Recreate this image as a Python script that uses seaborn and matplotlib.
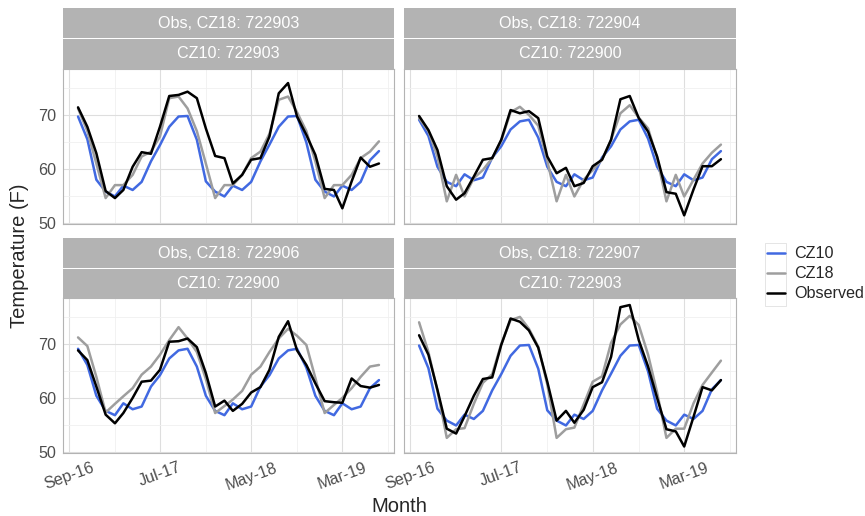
import numpy as np
import pandas as pd
import seaborn as sns
import matplotlib
matplotlib.use("Agg")
import matplotlib.pyplot as plt
import matplotlib.dates as mdates
from matplotlib.lines import Line2D
from matplotlib.patches import Rectangle

# ---------------- data ----------------
MONTHS = pd.date_range("2016-10-01", "2019-07-01", freq="MS")  # Oct-16 .. Jul-19 (34 months)

SERIES = ["CZ10", "CZ18", "Observed"]
COLORS = {"CZ10": "#4169E1", "CZ18": "#9E9E9E", "Observed": "#000000"}

TICK_DATES = ["2016-09-01", "2017-07-01", "2018-05-01", "2019-03-01"]
TICK_LABELS = ["Sep-16", "Jul-17", "May-18", "Mar-19"]
MINOR_DATES = ["2017-02-01", "2017-12-01", "2018-10-01", "2019-08-01"]

STRIP_TOP = ["Obs, CZ18: 722903", "Obs, CZ18: 722904", "Obs, CZ18: 722906", "Obs, CZ18: 722907"]
STRIP_BOTTOM = ["CZ10: 722903", "CZ10: 722900", "CZ10: 722900", "CZ10: 722903"]

CZ10_722903 = [69.7, 65.5, 58.0, 55.8, 54.9, 56.9, 56.1, 57.6, 61.4, 64.4, 67.8, 69.7,
               69.8, 65.4, 57.7, 55.8, 54.9, 56.9, 56.1, 57.6, 61.4, 64.5, 67.8, 69.7,
               69.8, 64.9, 58.0, 55.8, 54.9, 56.9, 56.1, 57.6, 61.6, 63.3]
CZ10_722900 = [69.1, 66.1, 60.4, 57.6, 56.8, 59.0, 57.9, 58.4, 62.1, 64.2, 67.3, 68.8,
               69.1, 65.8, 60.4, 57.6, 56.8, 59.0, 57.9, 58.4, 62.1, 64.2, 67.3, 68.8,
               69.1, 65.6, 60.4, 57.6, 56.8, 59.0, 57.9, 58.4, 61.8, 63.3]

CZ18_722903 = [71.2, 67.0, 61.0, 54.6, 57.0, 57.0, 58.9, 62.3, 63.2, 66.0, 73.1, 73.4,
               71.2, 67.0, 61.0, 54.6, 57.0, 57.0, 58.9, 62.0, 63.2, 66.5, 72.8, 73.4,
               70.5, 67.0, 61.4, 54.6, 57.0, 57.0, 58.9, 62.0, 63.2, 65.1]
CZ18_722904 = [69.4, 67.0, 62.3, 54.0, 58.9, 54.9, 58.3, 59.8, 62.0, 65.2, 70.5, 71.5,
               70.0, 68.0, 61.5, 54.0, 58.9, 54.9, 58.0, 59.8, 61.7, 65.4, 70.3, 71.8,
               69.5, 67.5, 62.0, 54.0, 58.9, 54.9, 58.0, 61.0, 63.0, 64.5]
CZ18_722906 = [71.2, 69.6, 63.9, 57.3, 58.9, 60.3, 61.8, 64.3, 65.8, 68.0, 70.7, 73.1,
               71.0, 68.5, 63.5, 57.2, 58.5, 59.7, 61.3, 64.3, 65.8, 68.5, 71.0, 72.8,
               71.5, 69.8, 63.7, 57.2, 58.7, 60.0, 61.8, 63.9, 65.8, 66.1]
CZ18_722907 = [74.0, 68.5, 61.3, 52.6, 54.2, 54.4, 58.9, 62.8, 64.4, 70.0, 74.4, 75.0,
               72.8, 69.5, 62.5, 52.6, 54.2, 54.5, 58.8, 63.0, 64.0, 70.2, 73.6, 75.2,
               73.5, 68.0, 61.0, 52.6, 54.3, 54.3, 59.0, 62.4, 64.7, 66.9]

OBS_722903 = [71.4, 67.8, 62.9, 55.9, 54.6, 56.1, 60.4, 63.1, 62.8, 67.8, 73.5, 73.7,
              74.3, 73.1, 67.5, 62.4, 62.0, 57.3, 58.9, 61.7, 62.0, 66.0, 74.0, 75.9,
              69.7, 66.3, 62.6, 56.3, 56.1, 52.7, 57.7, 62.1, 60.4, 61.0]
OBS_722904 = [69.8, 67.2, 63.5, 56.8, 54.3, 55.5, 58.6, 61.7, 62.0, 65.4, 70.9, 70.3,
              70.7, 69.4, 62.3, 59.2, 60.2, 56.8, 57.4, 60.5, 61.7, 65.4, 72.9, 73.5,
              69.4, 66.9, 62.3, 55.7, 55.4, 51.4, 56.2, 60.5, 60.5, 61.8]
OBS_722906 = [68.8, 67.0, 62.1, 56.9, 55.3, 57.2, 60.0, 63.0, 63.2, 65.2, 70.4, 70.5,
              71.0, 69.4, 64.6, 58.4, 59.5, 57.6, 58.9, 61.0, 62.0, 65.2, 71.3, 74.2,
              68.8, 66.1, 62.7, 59.4, 59.2, 59.1, 63.6, 62.2, 61.9, 62.4]
OBS_722907 = [71.6, 68.0, 61.5, 54.3, 53.4, 56.6, 60.4, 63.5, 63.8, 69.8, 74.7, 74.1,
              72.5, 69.3, 63.0, 55.8, 57.6, 55.4, 57.8, 62.0, 62.9, 67.6, 76.8, 77.2,
              70.7, 65.8, 60.0, 54.2, 53.8, 51.0, 56.5, 62.0, 61.4, 63.3]

PANEL_DATA = [
    (CZ10_722903, CZ18_722903, OBS_722903),
    (CZ10_722900, CZ18_722904, OBS_722904),
    (CZ10_722900, CZ18_722906, OBS_722906),
    (CZ10_722903, CZ18_722907, OBS_722907),
]

# ---------------- layout helpers ----------------
W, H = 865, 516
sns.set_style("white")
plt.rcParams['font.family'] = ['Liberation Sans', 'DejaVu Sans']

SMALL = 11.6
TITLE = 14.5

fig = plt.figure(figsize=(W / 100, H / 100), dpi=100)


def rect(x0, y0, x1, y1):
    return [x0 / W, 1 - y1 / H, (x1 - x0) / W, (y1 - y0) / H]


COLS = [(63, 394), (404, 736)]
ROWS = [(8, 69, 224), (238, 298, 453)]  # strip top, plot top, plot bottom

xd0 = mdates.date2num(MONTHS[0])
xd1 = mdates.date2num(MONTHS[-1])
pad = 0.05 * (xd1 - xd0)

for k, (cz10, cz18, obs) in enumerate(PANEL_DATA):
    r, c = divmod(k, 2)
    x0, x1 = COLS[c]
    st, pt, pb = ROWS[r]
    ax = fig.add_axes(rect(x0, pt, x1, pb))
    df = pd.DataFrame({"month": list(MONTHS) * 3,
                       "temp": list(cz10) + list(cz18) + list(obs),
                       "series": ["CZ10"] * len(cz10) + ["CZ18"] * len(cz18) + ["Observed"] * len(obs)})
    sns.lineplot(data=df, x="month", y="temp", hue="series", hue_order=SERIES,
                 palette=COLORS, linewidth=1.8, ax=ax, legend=False)
    ax.set_xlim(xd0 - pad, xd1 + pad)
    ax.set_ylim(49.8, 78.5)
    ax.set_yticks([50, 60, 70])
    ax.set_yticks([55, 65, 75], minor=True)
    ax.set_xticks(mdates.date2num(pd.to_datetime(TICK_DATES)))
    ax.set_xticks(mdates.date2num(pd.to_datetime(MINOR_DATES)), minor=True)
    ax.set_xticklabels(TICK_LABELS, rotation=20, ha="center")
    ax.grid(which="major", color="#DEDEDE", linewidth=0.8)
    ax.grid(which="minor", color="#F0F0F0", linewidth=0.6)
    ax.set_axisbelow(True)
    for sp in ax.spines.values():
        sp.set_color("#B3B3B3")
        sp.set_linewidth(0.8)
    ax.tick_params(which="major", length=3, width=0.7, color="#B3B3B3",
                   labelcolor="#4D4D4D", labelsize=SMALL, pad=2)
    ax.tick_params(which="minor", length=0)
    ax.set_xlabel("")
    ax.set_ylabel("")
    if c == 1:
        ax.tick_params(axis="y", left=False, labelleft=False)
    if r == 0:
        ax.tick_params(axis="x", bottom=False, labelbottom=False)

    # strips
    for j, (lab, (ya, yb)) in enumerate(zip([STRIP_TOP[k], STRIP_BOTTOM[k]],
                                            [(st, st + 30), (st + 30.7, pt)])):
        sax = fig.add_axes(rect(x0, ya, x1, yb))
        sax.set_facecolor("#B3B3B3")
        sax.set_xticks([])
        sax.set_yticks([])
        for sp in sax.spines.values():
            sp.set_visible(False)
        sax.text(0.5, 0.5, lab, color="white", ha="center", va="center",
                 fontsize=SMALL, transform=sax.transAxes)

# axis titles
fig.text(399 / W, 1 - 507 / H, "Month", ha="center", va="center", fontsize=TITLE)
fig.text(20 / W, 1 - 256 / H, "Temperature (F)", ha="center", va="center",
         rotation=90, fontsize=TITLE)

# legend
handles = [Line2D([0], [0], color=COLORS[s], linewidth=1.8) for s in SERIES]
leg = fig.legend(handles, SERIES, loc="upper left",
                 bbox_to_anchor=(767 / W, 1 - 246.5 / H), frameon=False,
                 fontsize=SMALL, handlelength=1.1, handletextpad=0.6,
                 labelspacing=0.3, borderpad=0, borderaxespad=0)
fig.patches.append(Rectangle((765 / W, 1 - 306 / H), 21 / W, 63 / H,
                             transform=fig.transFigure, fill=False,
                             edgecolor="#E0E0E0", linewidth=0.6))

fig.savefig("out.png", dpi=100)
